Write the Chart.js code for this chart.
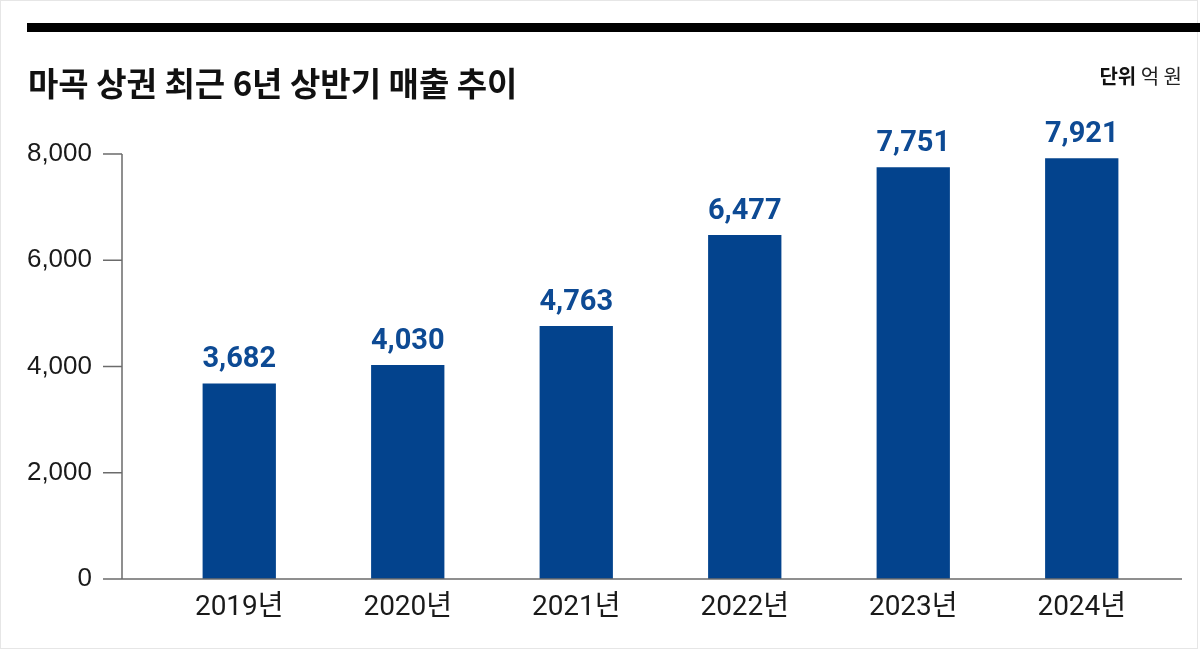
<!DOCTYPE html>
<html>
<head>
<meta charset="utf-8">
<script src="https://cdn.jsdelivr.net/npm/chart.js@4/dist/chart.umd.min.js"></script>
<style>
  html, body { margin: 0; padding: 0; background: #fff; }
  #wrap { width: 1200px; height: 651px; }
</style>
</head>
<body>
<div id="wrap"><canvas id="myChart" width="1200" height="651"></canvas></div>
<script>
'use strict';

const years = ['2019년', '2020년', '2021년', '2022년', '2023년', '2024년'];
const sales = [3682, 4030, 4763, 6477, 7751, 7921];
const yTicks = [0, 2000, 4000, 6000, 8000];

const titleText = '마곡 상권 최근 6년 상반기 매출 추이';
const unitBold = '단위';
const unitText = ' 억 원';

const barColor = '#03438d';
const labelColor = '#0d4a94';
const axisColor = '#6b6b6b';

// header, axis lines and value labels
const decor = {
  id: 'decor',
  beforeDraw(chart) {
    const ctx = chart.ctx;
    ctx.save();
    ctx.fillStyle = '#fff';
    ctx.fillRect(0, 0, chart.width, chart.height);
    ctx.strokeStyle = '#e6e6e6';
    ctx.lineWidth = 1;
    ctx.strokeRect(0.5, 0.5, chart.width - 3, chart.height - 3);
    // black rule
    ctx.fillStyle = '#000';
    ctx.fillRect(27, 23, chart.width - 27, 9);
    // title
    ctx.font = 'bold 33px "Noto Sans CJK KR", sans-serif';
    ctx.textBaseline = 'alphabetic';
    ctx.textAlign = 'left';
    ctx.fillStyle = '#111';
    ctx.fillText(titleText, 28, 96);
    // unit
    ctx.font = '20px "Noto Sans CJK KR", sans-serif';
    const w2 = ctx.measureText(unitText).width;
    ctx.fillStyle = '#222';
    ctx.fillText(unitText, 1182 - w2, 84);
    ctx.font = 'bold 20px "Noto Sans CJK KR", sans-serif';
    const w1 = ctx.measureText(unitBold).width;
    ctx.fillStyle = '#111';
    ctx.fillText(unitBold, 1182 - w2 - w1, 84);
    ctx.restore();
  },
  afterDatasetsDraw(chart) {
    const ctx = chart.ctx;
    const y = chart.scales.y;
    const bottom = y.getPixelForValue(0);
    ctx.save();
    ctx.strokeStyle = axisColor;
    ctx.lineWidth = 1.5;
    ctx.beginPath();
    ctx.moveTo(122, y.getPixelForValue(8000));
    ctx.lineTo(122, bottom);
    for (const t of yTicks) {
      const py = y.getPixelForValue(t);
      ctx.moveTo(103, py);
      ctx.lineTo(122, py);
    }
    ctx.moveTo(122, bottom);
    ctx.lineTo(1182, bottom);
    ctx.stroke();

    ctx.font = 'bold 29px Roboto, sans-serif';
    ctx.fillStyle = labelColor;
    ctx.textAlign = 'center';
    ctx.textBaseline = 'alphabetic';
    chart.getDatasetMeta(0).data.forEach((bar, i) => {
      ctx.fillText(sales[i].toLocaleString('en-US'), bar.x, bar.y - 16);
    });
    ctx.restore();
  }
};

new Chart(document.querySelector('#myChart'), {
  type: 'bar',
  data: {
    labels: years,
    datasets: [{
      data: sales,
      backgroundColor: barColor,
      barPercentage: 0.435,
      categoryPercentage: 1,
    }],
  },
  options: {
    responsive: false,
    animation: false,
    layout: { padding: { top: 154, right: 34, bottom: 0, left: 0 } },
    plugins: {
      legend: { display: false },
      tooltip: { enabled: false },
    },
    scales: {
      x: {
        grid: { display: false, drawTicks: false },
        border: { display: false },
        ticks: {
          padding: 12,
          color: '#1a1a1a',
          font: { family: 'Roboto, "Noto Sans CJK KR", sans-serif', size: 28 },
        },
        afterFit(scale) { scale.height = 72; },
      },
      y: {
        min: 0,
        max: 8000,
        grid: { display: false, drawTicks: false },
        border: { display: false },
        afterBuildTicks(scale) { scale.ticks = yTicks.map((v) => ({ value: v })); },
        ticks: {
          padding: 63,
          color: '#1a1a1a',
          font: { family: '"Liberation Sans", Arial, sans-serif', size: 26 },
          callback: (v) => v.toLocaleString('en-US'),
        },
        afterFit(scale) {
          scale.width = 155;
          scale.paddingTop = 0;
          scale.paddingBottom = 0;
        },
      },
    },
  },
  plugins: [decor],
});
</script>
</body>
</html>
